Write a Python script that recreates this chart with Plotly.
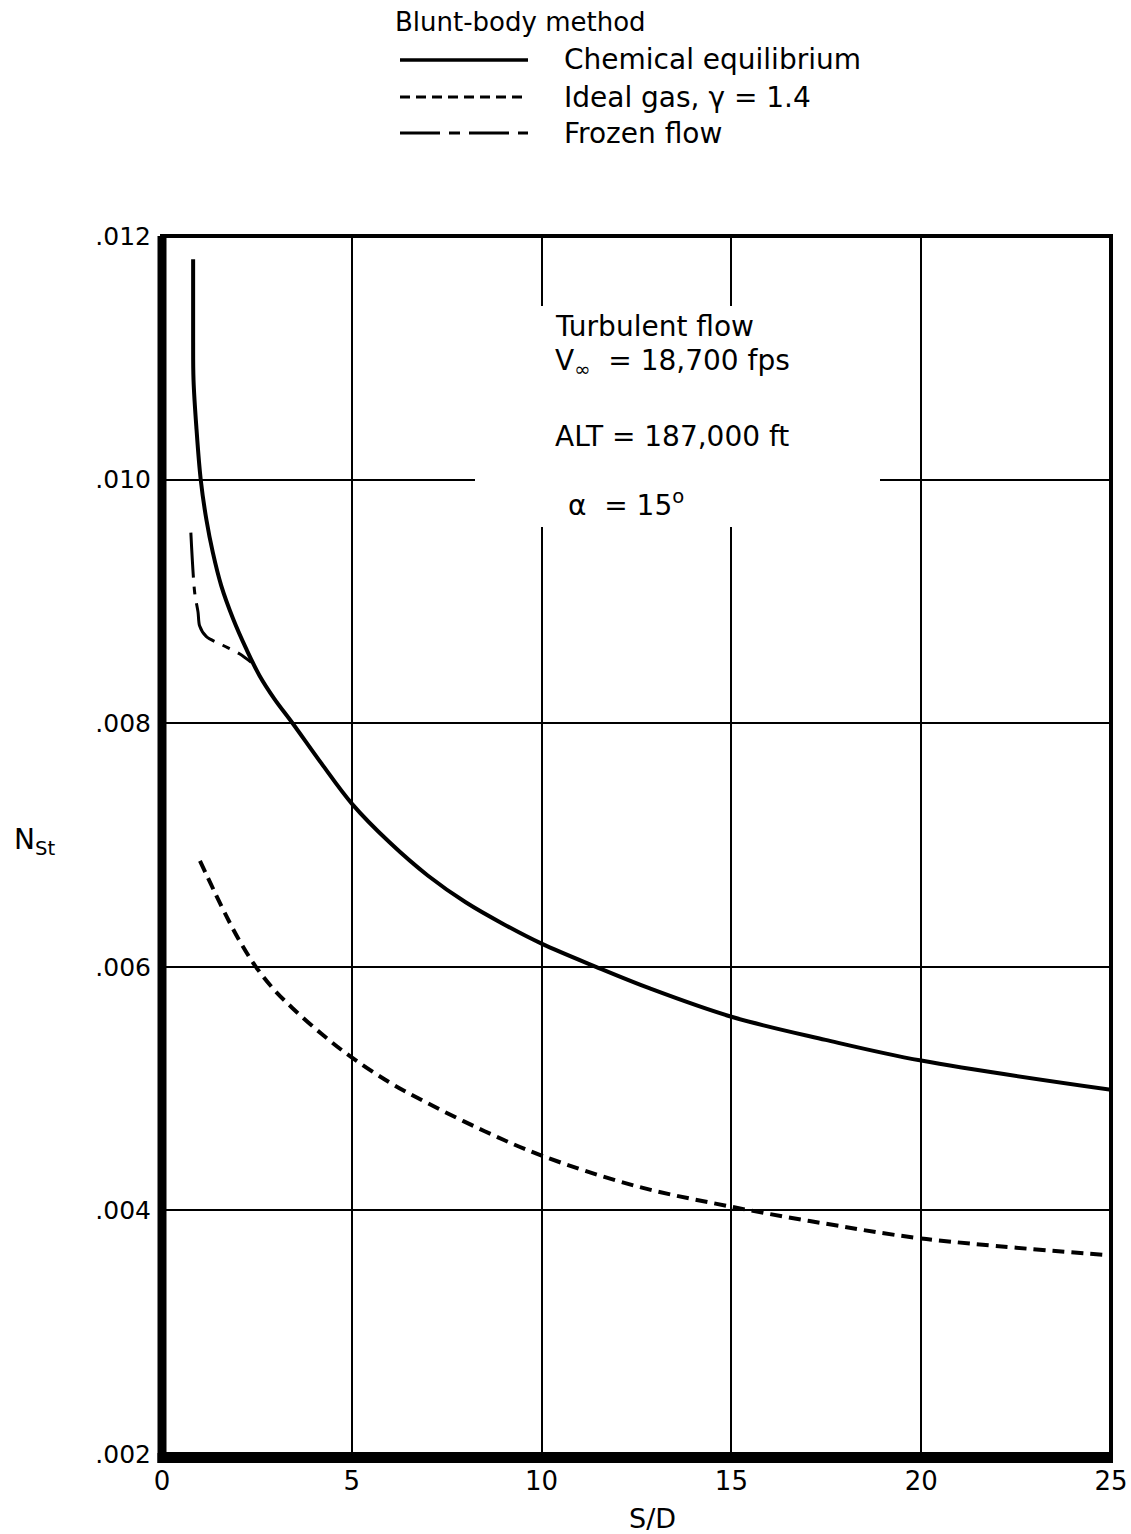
import plotly.graph_objects as go

# ---------------- data ----------------
chem_x = [0.82, 0.82, 0.83, 0.91, 1.02, 1.17, 1.34, 1.56, 1.87, 2.22, 2.57, 2.96,
          3.44, 4.2, 5.0, 6.0, 7.0, 8.0, 9.0, 10.0, 11.43, 12.87, 15.0,
          17.48, 20.0, 25.0]
chem_y = [0.01181, 0.01120, 0.01082, 0.01041, 0.01000, 0.00967, 0.00940, 0.00913,
          0.00886, 0.00861, 0.00839, 0.00820, 0.00800, 0.00767, 0.00734, 0.00702,
          0.00675, 0.00653, 0.00635, 0.00619, 0.00600, 0.00582, 0.00559,
          0.00540, 0.00523, 0.00499]

ideal_x = [1.0, 1.69, 2.05, 2.45, 2.93, 3.44, 4.2, 4.98, 6.0, 7.0, 8.5, 10.0,
           12.48, 15.0, 17.5, 20.0, 25.0]
ideal_y = [0.00687, 0.00642, 0.00621, 0.00601, 0.00582, 0.00566, 0.00545, 0.00526,
           0.00505, 0.00488, 0.00465, 0.00445, 0.00420, 0.00403, 0.00389, 0.00377,
           0.00363]

frozen_x = [0.76, 0.86, 0.95, 0.99, 1.17, 1.60, 2.04, 2.35]
frozen_y = [0.009565, 0.009075, 0.00891, 0.00880, 0.00871, 0.00864, 0.00857, 0.00850]

x_ticks = [0, 5, 10, 15, 20, 25]
x_tick_labels = ["0", "5", "10", "15", "20", "25"]
y_ticks = [0.002, 0.004, 0.006, 0.008, 0.010, 0.012]
y_tick_labels = [".002", ".004", ".006", ".008", ".010", ".012"]

series_names = ["Chemical equilibrium", "Ideal gas, \u03b3 = 1.4", "Frozen flow"]
legend_title = "Blunt-body method"
info_lines = ["Turbulent flow", "V<sub>\u221e</sub>  = 18,700 fps",
              "ALT = 187,000 ft", "\u03b1  = 15<sup>o</sup>"]

# ---------------- layout geometry ----------------
W, H = 1131, 1534
L, R, T, B = 162, 1111, 236, 1454
FONT = "DejaVu Sans"


def PX(px):
    return (px - L) / (R - L)


def PY(py):
    return (B - py) / (B - T)


fig = go.Figure()

fig.add_trace(go.Scatter(x=chem_x, y=chem_y, mode="lines", name=series_names[0],
                         line=dict(color="black", width=4, shape="spline", smoothing=1.0),
                         showlegend=False))
fig.add_trace(go.Scatter(x=ideal_x, y=ideal_y, mode="lines", name=series_names[1],
                         line=dict(color="black", width=4, dash="12px,7px",
                                   shape="spline", smoothing=1.0),
                         showlegend=False))
fig.add_trace(go.Scatter(x=frozen_x, y=frozen_y, mode="lines", name=series_names[2],
                         line=dict(color="black", width=3, dash="45px,9px,8px,9px",
                                   shape="spline", smoothing=0.8),
                         showlegend=False))

shapes = []
# white box behind the condition text (interrupts grid lines)
shapes.append(dict(type="rect", xref="paper", yref="paper",
                   x0=PX(475), x1=PX(880), y0=PY(527), y1=PY(306),
                   fillcolor="white", line=dict(width=0), layer="above"))
# frame
shapes.append(dict(type="rect", xref="paper", yref="paper", x0=0, x1=1, y0=0, y1=1,
                   line=dict(color="black", width=4), layer="above"))
shapes.append(dict(type="line", xref="paper", yref="paper", x0=0, x1=0,
                   y0=PY(1463), y1=1.0, line=dict(color="black", width=9), layer="above"))
shapes.append(dict(type="line", xref="paper", yref="paper", x0=PX(157.5), x1=PX(1113),
                   y0=PY(1458), y1=PY(1458), line=dict(color="black", width=10),
                   layer="above"))

# legend samples
leg_y = [60, 97, 133]
leg_dash = ["solid", "10px,6px", "40px,9px,11px,9px"]
leg_w = [3.5, 3, 3]
for yy, dd, ww in zip(leg_y, leg_dash, leg_w):
    shapes.append(dict(type="line", xref="paper", yref="paper",
                       x0=PX(400), x1=PX(528), y0=PY(yy), y1=PY(yy),
                       line=dict(color="black", width=ww, dash=dd)))

annotations = []
annotations.append(dict(text=legend_title, xref="paper", yref="paper",
                        x=PX(393), y=PY(22), xanchor="left", yanchor="middle",
                        showarrow=False, font=dict(size=26, family=FONT, color="black")))
for yy, name in zip(leg_y, series_names):
    annotations.append(dict(text=name, xref="paper", yref="paper",
                            x=PX(562), y=PY(yy), xanchor="left", yanchor="middle",
                            showarrow=False, font=dict(size=28, family=FONT, color="black")))

info_pos = [(553, 326), (553, 362), (553, 437), (566, 503)]
for (xx, yy), txt in zip(info_pos, info_lines):
    annotations.append(dict(text=txt, xref="paper", yref="paper",
                            x=PX(xx), y=PY(yy), xanchor="left", yanchor="middle",
                            showarrow=False, font=dict(size=28, family=FONT, color="black")))

# axis titles
annotations.append(dict(text="S/D", xref="paper", yref="paper", x=PX(652), y=PY(1518),
                        xanchor="center", yanchor="middle", showarrow=False,
                        font=dict(size=27, family=FONT, color="black")))
annotations.append(dict(text="N<sub>St</sub>", xref="paper", yref="paper",
                        x=PX(12), y=PY(842), xanchor="left", yanchor="middle",
                        showarrow=False, font=dict(size=28, family=FONT, color="black")))

fig.update_layout(
    width=W, height=H, autosize=False,
    margin=dict(l=L, r=W - R, t=T, b=H - B, pad=0, autoexpand=False),
    paper_bgcolor="white", plot_bgcolor="white",
    showlegend=False,
    shapes=shapes, annotations=annotations,
    font=dict(family=FONT, color="black"),
)
fig.update_xaxes(range=[0, 25], tickvals=x_ticks, ticktext=x_tick_labels,
                 showgrid=True, gridcolor="black", gridwidth=2, zeroline=False,
                 showline=False, ticks="", ticklabelstandoff=9, automargin=False,
                 tickfont=dict(size=26, family=FONT, color="black"))
fig.update_yaxes(range=[0.002, 0.012], tickvals=y_ticks, ticktext=y_tick_labels,
                 showgrid=True, gridcolor="black", gridwidth=2, zeroline=False,
                 showline=False, ticks="", ticklabelstandoff=10, automargin=False,
                 tickfont=dict(size=25, family=FONT, color="black"))

fig.write_html("out.html", config={"displayModeBar": False},
               post_script="document.body.style.margin='0px';")
